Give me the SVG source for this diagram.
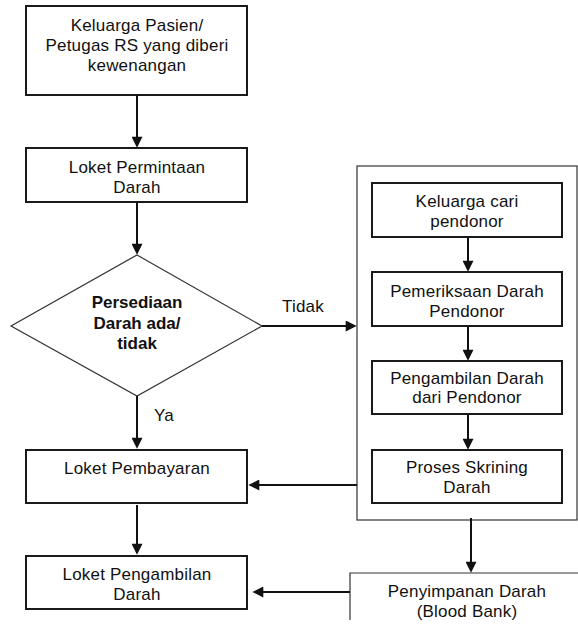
<svg xmlns="http://www.w3.org/2000/svg" width="578" height="625" viewBox="0 0 578 625">
  <style>
    .bg { fill: #ffffff; }
    .box { fill: #ffffff; stroke: #1a1a1a; stroke-width: 2; }
    .thin { fill: #ffffff; stroke: #333333; stroke-width: 1.2; }
    .lbl { font-family: "Liberation Sans", Arial, sans-serif; font-size: 17px; letter-spacing: 0.2px; fill: #111111; text-anchor: middle; }
    .bold { font-weight: bold; letter-spacing: 0; }
    .free { text-anchor: start; }
    .conn { fill: none; stroke: #111111; stroke-width: 2; }
  </style>
  <defs>
    <marker id="arrow" viewBox="0 0 12 12" refX="8" refY="6" markerWidth="12" markerHeight="11" markerUnits="userSpaceOnUse" orient="auto">
      <path d="M0,0 L12,6 L0,12 z" fill="#111111"/>
    </marker>
  </defs>

  <rect class="bg" x="0" y="0" width="578" height="625"/>

  <!-- donor sub-process container -->
  <g id="donor-group">
    <rect class="thin" x="357" y="166" width="220" height="354"/>
  </g>

  <g id="keluarga-pasien">
    <rect class="box" x="26" y="6" width="221" height="89"/>
    <text class="lbl" x="137" y="30.5">Keluarga Pasien/</text>
    <text class="lbl" x="137" y="50.5">Petugas RS yang diberi</text>
    <text class="lbl" x="137" y="70.5">kewenangan</text>
  </g>

  <g id="loket-permintaan">
    <rect class="box" x="26" y="148" width="221" height="54"/>
    <text class="lbl" x="137" y="172.5">Loket Permintaan</text>
    <text class="lbl" x="137" y="192.5">Darah</text>
  </g>

  <g id="persediaan">
    <polygon class="thin" points="137,255 262,326 137,396 11,326"/>
    <text class="lbl bold" x="137" y="307.5">Persediaan</text>
    <text class="lbl bold" x="137" y="329">Darah ada/</text>
    <text class="lbl bold" x="137" y="348.5">tidak</text>
  </g>

  <g id="loket-pembayaran">
    <rect class="box" x="26" y="450" width="221" height="53"/>
    <text class="lbl" x="137" y="474">Loket Pembayaran</text>
  </g>

  <g id="loket-pengambilan">
    <rect class="box" x="26" y="556" width="221" height="53"/>
    <text class="lbl" x="137" y="580">Loket Pengambilan</text>
    <text class="lbl" x="137" y="599.5">Darah</text>
  </g>

  <g id="keluarga-cari">
    <rect class="box" x="372" y="183" width="190" height="54"/>
    <text class="lbl" x="467" y="207">Keluarga cari</text>
    <text class="lbl" x="467" y="227">pendonor</text>
  </g>

  <g id="pemeriksaan">
    <rect class="box" x="372" y="272" width="190" height="54"/>
    <text class="lbl" x="467" y="297">Pemeriksaan Darah</text>
    <text class="lbl" x="467" y="316.5">Pendonor</text>
  </g>

  <g id="pengambilan-donor">
    <rect class="box" x="372" y="361" width="190" height="53"/>
    <text class="lbl" x="467" y="383.5">Pengambilan Darah</text>
    <text class="lbl" x="467" y="403">dari Pendonor</text>
  </g>

  <g id="skrining">
    <rect class="box" x="372" y="450" width="190" height="53"/>
    <text class="lbl" x="467" y="473">Proses Skrining</text>
    <text class="lbl" x="467" y="493">Darah</text>
  </g>

  <g id="penyimpanan">
    <path class="thin" d="M350,620 V573 H578"/>
    <text class="lbl" x="467" y="597">Penyimpanan Darah</text>
    <text class="lbl" x="467" y="617">(Blood Bank)</text>
  </g>

  <g id="connectors">
    <line class="conn" x1="137" y1="95" x2="137" y2="144" marker-end="url(#arrow)"/>
    <line class="conn" x1="137" y1="202" x2="137" y2="251" marker-end="url(#arrow)"/>
    <line class="conn" x1="262" y1="326" x2="353" y2="326" marker-end="url(#arrow)"/>
    <line class="conn" x1="137" y1="396" x2="137" y2="445" marker-end="url(#arrow)"/>
    <line class="conn" x1="137" y1="505" x2="137" y2="551" marker-end="url(#arrow)"/>
    <line class="conn" x1="468" y1="237" x2="468" y2="268" marker-end="url(#arrow)"/>
    <line class="conn" x1="468" y1="326" x2="468" y2="357" marker-end="url(#arrow)"/>
    <line class="conn" x1="468" y1="414" x2="468" y2="446" marker-end="url(#arrow)"/>
    <line class="conn" x1="357" y1="485" x2="252" y2="485" marker-end="url(#arrow)"/>
    <line class="conn" x1="471" y1="518" x2="471" y2="569" marker-end="url(#arrow)"/>
    <line class="conn" x1="350" y1="592" x2="256" y2="592" marker-end="url(#arrow)"/>
    <text class="lbl free" x="282" y="312">Tidak</text>
    <text class="lbl free" x="154" y="421">Ya</text>
  </g>
</svg>
